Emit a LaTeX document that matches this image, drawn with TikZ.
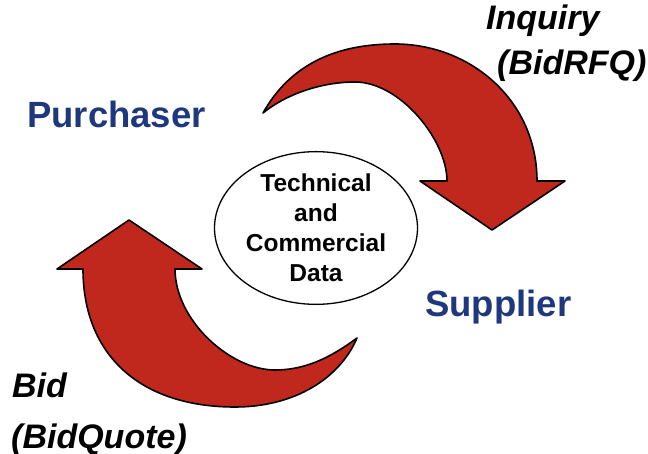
\documentclass[tikz,border=0pt]{standalone}
\usepackage{fontspec}
\setmainfont{Liberation Sans}
\usetikzlibrary{shapes.geometric}
\definecolor{arrowred}{RGB}{192,40,30}
\definecolor{partyblue}{RGB}{31,55,125}
\begin{document}
\begin{tikzpicture}[x=1pt,y=-1pt,
  bigarrow/.style={fill=arrowred,draw=black,line width=1.6pt,line join=round},
  party/.style={font=\fontsize{36.5}{43}\selectfont\bfseries,text=partyblue,anchor=base west,inner sep=0pt},
  msg/.style={font=\fontsize{34}{40}\selectfont\bfseries\itshape,anchor=base west,inner sep=0pt},
  data/.style={draw,ellipse,line width=1.3pt,minimum width=203pt,minimum height=140pt,inner sep=0pt,align=center,font=\fontsize{24.5}{30}\selectfont\bfseries}]
\useasboundingbox (0,0) rectangle (648,454);
% Inquiry arrow (top)
\path[bigarrow] (263,113) .. controls (290,65) and (335,44) .. (395,44)
  .. controls (470,44) and (537,100) .. (537,181)
  -- (565,181) -- (492,230) -- (420,181) -- (447,181)
  .. controls (447,140) and (400,82) .. (355,82)
  .. controls (320,82) and (285,95) .. (263,113) -- cycle;
% Bid arrow (bottom)
\path[bigarrow] (357,338) .. controls (340,378) and (295,407) .. (235,407)
  .. controls (140,407) and (83,355) .. (83,269)
  -- (57,269) -- (129,220) -- (202,269) -- (175,269)
  .. controls (175,320) and (230,370) .. (275,370)
  .. controls (305,370) and (330,358) .. (357,338) -- cycle;
\node[data] (data) at (316,228) {Technical\\and\\Commercial\\Data};
\node[party] (purchaser) at (27,128) {Purchaser};
\node[party] (supplier) at (425,317) {Supplier};
\node[msg] (inq) at (486,30) {Inquiry};
\node[msg] (rfq) at (497,75) {(BidRFQ)};
\node[msg] (bid) at (12,397) {Bid};
\node[msg] (quote) at (11,448) {(BidQuote)};
\end{tikzpicture}
\end{document}
